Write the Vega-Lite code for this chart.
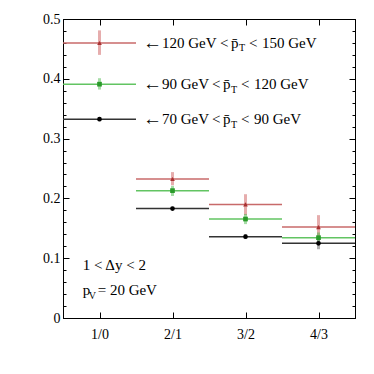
{
  "$schema": "https://vega.github.io/schema/vega-lite/v6.json",
  "width": 292,
  "height": 299,
  "autosize": {"type": "none"},
  "padding": {"left": 63, "top": 19, "right": 19, "bottom": 56},
  "background": "white",
  "config": {
    "view": {"stroke": "black", "strokeWidth": 1},
    "axis": {"domainColor": "black", "domainWidth": 1, "tickColor": "black", "tickWidth": 1, "labelFont": "Liberation Serif", "labelFontSize": 14, "labelColor": "black", "grid": false}
  },
  "datasets": {
    "pts": [
      {"bin": 1, "series": "r", "value": 0.460, "elo": 0.440, "ehi": 0.481, "lo": 0.5, "hi": 1.5},
      {"bin": 1, "series": "g", "value": 0.391, "elo": 0.382, "ehi": 0.401, "lo": 0.5, "hi": 1.5},
      {"bin": 1, "series": "k", "value": 0.3325, "elo": 0.329, "ehi": 0.336, "lo": 0.5, "hi": 1.5},
      {"bin": 2, "series": "r", "value": 0.2325, "elo": 0.222, "ehi": 0.244, "lo": 1.5, "hi": 2.5},
      {"bin": 2, "series": "g", "value": 0.213, "elo": 0.204, "ehi": 0.221, "lo": 1.5, "hi": 2.5},
      {"bin": 2, "series": "k", "value": 0.183, "elo": 0.180, "ehi": 0.186, "lo": 1.5, "hi": 2.5},
      {"bin": 3, "series": "r", "value": 0.190, "elo": 0.172, "ehi": 0.207, "lo": 2.5, "hi": 3.5},
      {"bin": 3, "series": "g", "value": 0.1655, "elo": 0.157, "ehi": 0.174, "lo": 2.5, "hi": 3.5},
      {"bin": 3, "series": "k", "value": 0.136, "elo": 0.132, "ehi": 0.140, "lo": 2.5, "hi": 3.5},
      {"bin": 4, "series": "r", "value": 0.152, "elo": 0.135, "ehi": 0.172, "lo": 3.5, "hi": 4.5},
      {"bin": 4, "series": "g", "value": 0.1343, "elo": 0.126, "ehi": 0.143, "lo": 3.5, "hi": 4.5},
      {"bin": 4, "series": "k", "value": 0.1248, "elo": 0.115, "ehi": 0.135, "lo": 3.5, "hi": 4.5}
    ],
    "arrows": [
      {"t": "←", "x": 1.596, "y": 0.460},
      {"t": "←", "x": 1.596, "y": 0.391},
      {"t": "←", "x": 1.596, "y": 0.3325}
    ],
    "ann": [
      {"t": "120 GeV", "x": 1.856, "y": 0.460},
      {"t": "<", "x": 2.651, "y": 0.460},
      {"t": "p\u0304", "x": 2.801, "y": 0.460},
      {"t": "<", "x": 3.048, "y": 0.460},
      {"t": "150 GeV", "x": 3.226, "y": 0.460},
      {"t": "90 GeV", "x": 1.856, "y": 0.391},
      {"t": "<", "x": 2.541, "y": 0.391},
      {"t": "p\u0304", "x": 2.692, "y": 0.391},
      {"t": "<", "x": 2.938, "y": 0.391},
      {"t": "120 GeV", "x": 3.116, "y": 0.391},
      {"t": "70 GeV", "x": 1.856, "y": 0.3325},
      {"t": "<", "x": 2.541, "y": 0.3325},
      {"t": "p\u0304", "x": 2.692, "y": 0.3325},
      {"t": "<", "x": 2.938, "y": 0.3325},
      {"t": "90 GeV", "x": 3.116, "y": 0.3325},
      {"t": "1 < Δy < 2", "x": 0.77, "y": 0.088},
      {"t": "p", "x": 0.77, "y": 0.046},
      {"t": "= 20 GeV", "x": 0.975, "y": 0.046}
    ],
    "sub": [
      {"t": "T", "x": 2.911, "y": 0.451},
      {"t": "T", "x": 2.801, "y": 0.382},
      {"t": "T", "x": 2.801, "y": 0.3235},
      {"t": "V", "x": 0.852, "y": 0.037}
    ]
  },
  "resolve": {"axis": {"x": "independent", "y": "independent"}},
  "layer": [
    {
      "data": {"name": "pts"},
      "mark": {"type": "rule", "strokeWidth": 1.5},
      "encoding": {
        "x": {"field": "lo", "type": "quantitative", "scale": {"domain": [0.5, 4.5], "nice": false, "zero": false},
              "axis": {"orient": "bottom", "title": null, "values": [1, 2, 3, 4], "labelExpr": "['','1/0','2/1','3/2','4/3'][datum.value]", "tickSize": -6, "labelPadding": 15}},
        "x2": {"field": "hi"},
        "y": {"field": "value", "type": "quantitative", "scale": {"domain": [0, 0.5], "nice": false, "zero": false},
              "axis": {"orient": "left", "title": null, "values": [0, 0.1, 0.2, 0.3, 0.4, 0.5],
                       "labelExpr": "datum.value == 0 ? '0' : format(datum.value, '.1f')",
                       "tickSize": -6, "labelPadding": 9}},
        "stroke": {"field": "series", "type": "nominal", "scale": {"domain": ["r", "g", "k"], "range": ["#c86a6a", "#62c462", "#333333"]}, "legend": null}
      }
    },
    {
      "data": {"name": "pts"},
      "mark": {"type": "rule", "strokeWidth": 3, "opacity": 0.45},
      "encoding": {
        "x": {"field": "bin", "type": "quantitative", "scale": {"domain": [0.5, 4.5], "nice": false, "zero": false},
              "axis": {"orient": "top", "title": null, "values": [1, 2, 3, 4], "labels": false, "tickSize": -6}},
        "y": {"field": "elo", "type": "quantitative", "scale": {"domain": [0, 0.5], "nice": false, "zero": false},
              "axis": {"orient": "right", "title": null, "labels": false, "values": [0, 0.1, 0.2, 0.3, 0.4, 0.5], "tickSize": -6}},
        "y2": {"field": "ehi"},
        "color": {"field": "series", "type": "nominal", "scale": {"domain": ["r", "g", "k"], "range": ["#c84a4a", "#3cb43c", "#555555"]}, "legend": null}
      }
    },
    {
      "data": {"name": "pts"},
      "mark": {"type": "point", "filled": true, "size": 22, "opacity": 1},
      "encoding": {
        "x": {"field": "bin", "type": "quantitative", "scale": {"domain": [0.5, 4.5], "nice": false, "zero": false}, "axis": null},
        "y": {"field": "value", "type": "quantitative", "scale": {"domain": [0, 0.5], "nice": false, "zero": false},
              "axis": {"orient": "left", "title": null, "labels": false, "domain": false, "tickSize": -3,
                       "values": [0.02, 0.04, 0.06, 0.08, 0.12, 0.14, 0.16, 0.18, 0.22, 0.24, 0.26, 0.28, 0.32, 0.34, 0.36, 0.38, 0.42, 0.44, 0.46, 0.48]}},
        "shape": {"field": "series", "type": "nominal", "scale": {"domain": ["r", "g", "k"], "range": ["triangle-up", "square", "circle"]}, "legend": null},
        "fill": {"field": "series", "type": "nominal", "scale": {"domain": ["r", "g", "k"], "range": ["#a83232", "#2a9a2a", "#000000"]}, "legend": null}
      }
    },
    {
      "data": {"name": "arrows"},
      "mark": {"type": "text", "font": "Liberation Serif", "fontSize": 19, "align": "left", "baseline": "middle", "color": "black"},
      "encoding": {
        "x": {"field": "x", "type": "quantitative", "scale": {"domain": [0.5, 4.5], "nice": false, "zero": false}, "axis": null},
        "y": {"field": "y", "type": "quantitative", "scale": {"domain": [0, 0.5], "nice": false, "zero": false},
              "axis": {"orient": "right", "title": null, "labels": false, "domain": false, "tickSize": -3,
                       "values": [0.02, 0.04, 0.06, 0.08, 0.12, 0.14, 0.16, 0.18, 0.22, 0.24, 0.26, 0.28, 0.32, 0.34, 0.36, 0.38, 0.42, 0.44, 0.46, 0.48]}},
        "text": {"field": "t"}
      }
    },
    {
      "data": {"name": "ann"},
      "mark": {"type": "text", "font": "Liberation Serif", "fontSize": 15, "align": "left", "baseline": "middle", "color": "black"},
      "encoding": {
        "x": {"field": "x", "type": "quantitative", "scale": {"domain": [0.5, 4.5], "nice": false, "zero": false}, "axis": null},
        "y": {"field": "y", "type": "quantitative", "scale": {"domain": [0, 0.5], "nice": false, "zero": false}, "axis": null},
        "text": {"field": "t"}
      }
    },
    {
      "data": {"name": "sub"},
      "mark": {"type": "text", "font": "Liberation Serif", "fontSize": 10, "align": "left", "baseline": "middle", "color": "black"},
      "encoding": {
        "x": {"field": "x", "type": "quantitative", "scale": {"domain": [0.5, 4.5], "nice": false, "zero": false}, "axis": null},
        "y": {"field": "y", "type": "quantitative", "scale": {"domain": [0, 0.5], "nice": false, "zero": false}, "axis": null},
        "text": {"field": "t"}
      }
    }
  ]
}
